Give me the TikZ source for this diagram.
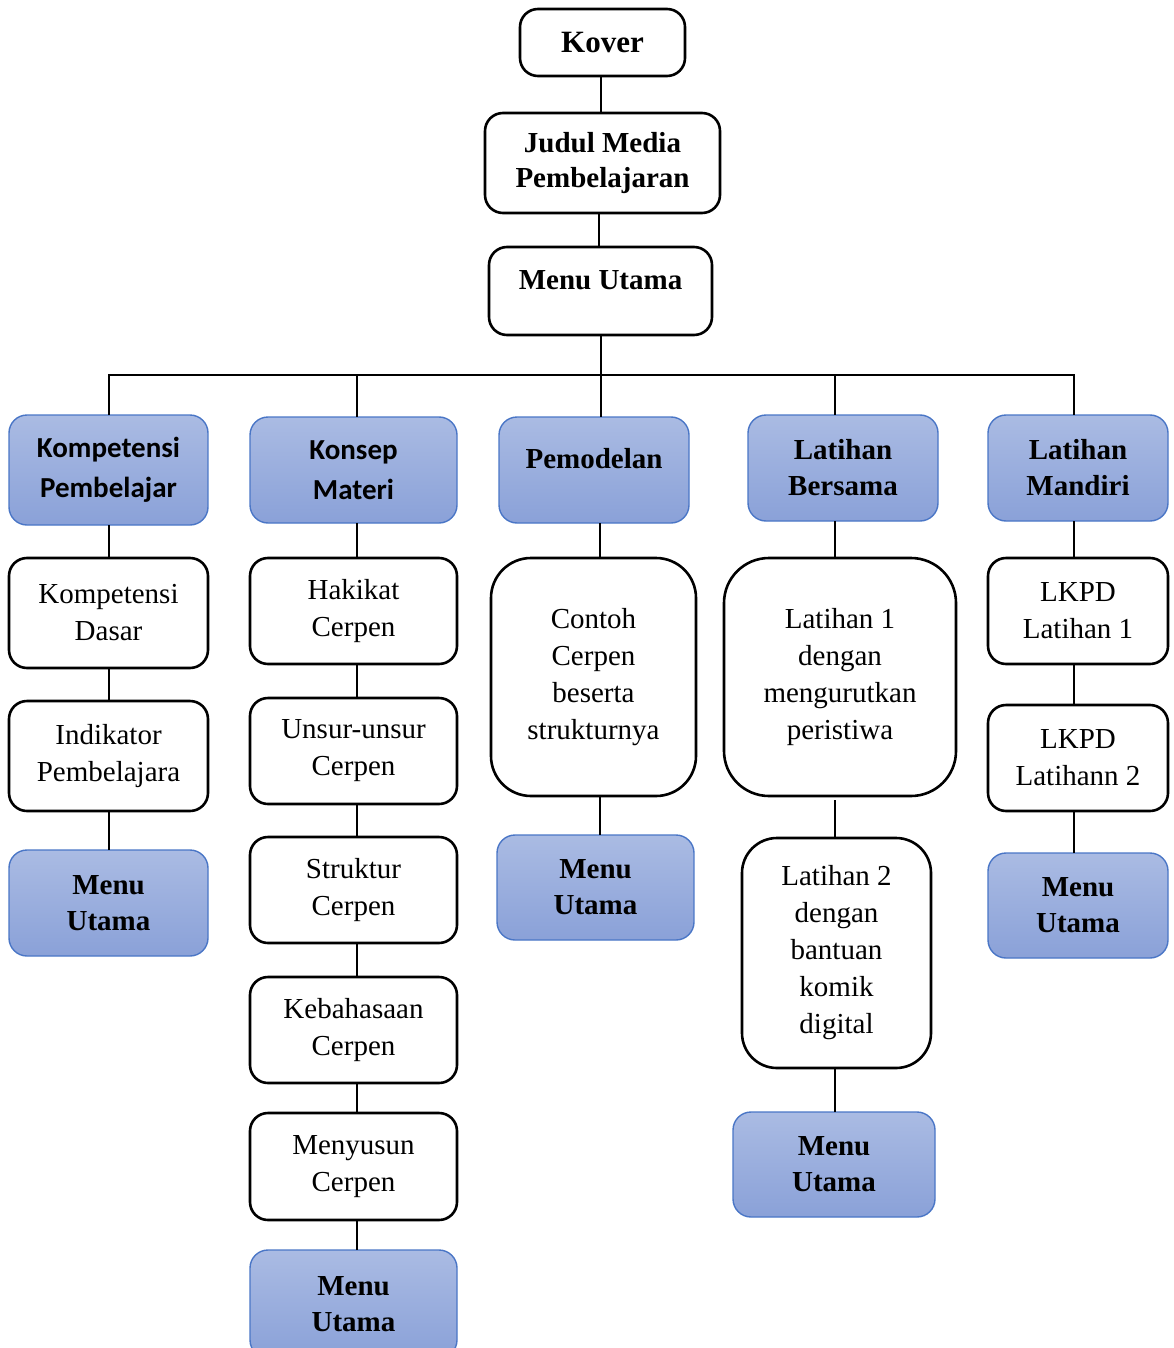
\documentclass[tikz,border=0pt]{standalone}
\usepackage{fontspec}
\setmainfont{Liberation Serif}
\newfontfamily\calib{Carlito}
\definecolor{blueTop}{HTML}{AABBE3}
\definecolor{blueBot}{HTML}{8AA1D8}
\definecolor{blueEdge}{HTML}{4A76C6}
\tikzset{
  base/.style={rectangle, rounded corners=18pt, inner sep=0pt, outer sep=0pt, align=center,
    font=\fontsize{29}{37}\selectfont},
  wbox/.style={base, draw=black, line width=2.6pt, fill=white},
  bbox/.style={base, draw=blueEdge, line width=1.4pt, top color=blueTop, bottom color=blueBot,
    font=\fontsize{29}{36}\selectfont\bfseries},
  cbox/.style={bbox, font=\fontsize{29}{40}\selectfont\calib\bfseries},
  tbox/.style={wbox, font=\fontsize{29}{35}\selectfont\bfseries},
  sz/.style 2 args={minimum width=#1pt, minimum height=#2pt},
  thk/.style={line width=2.8pt},
  thn/.style={line width=1.1pt}
}
\begin{document}
\begin{tikzpicture}[x=1pt,y=-1pt]
\useasboundingbox (0,0) rectangle (1174,1348);
% top
\node[tbox, sz={165}{67}, font=\fontsize{31}{35}\selectfont\bfseries] (kover) at (602.5,42.5) {Kover};
\node[tbox, sz={235}{100}] (judul) at (602.5,163) {Judul Media\\Pembelajaran};
\node[tbox, sz={223}{88}, text depth=21pt] (mu) at (600.5,291) {Menu Utama};
% headers
\node[cbox, sz={199}{110}] (kp) at (108.5,470) {Kompetensi\\Pembelajar};
\node[cbox, sz={207}{106}] (km) at (353.5,470) {Konsep\\Materi};
\node[bbox, sz={190}{106}, text depth=24pt] (pm) at (594,470) {Pemodelan};
\node[bbox, sz={190}{106}] (lb) at (843,468) {Latihan\\Bersama};
\node[bbox, sz={180}{106}] (lm) at (1078,468) {Latihan\\Mandiri};
% column 1
\node[wbox, sz={199}{110}] (kd) at (108.5,613) {Kompetensi\\Dasar};
\node[wbox, sz={199}{110}] (ip) at (108.5,756) {Indikator\\Pembelajara};
\node[bbox, sz={199}{106}] (m1) at (108.5,903) {Menu\\Utama};
% column 2
\node[wbox, sz={207}{106}] (hc) at (353.5,611) {Hakikat\\Cerpen};
\node[wbox, sz={207}{106}] (uc) at (353.5,751) {Unsur-unsur\\Cerpen};
\node[wbox, sz={207}{106}] (sc) at (353.5,890) {Struktur\\Cerpen};
\node[wbox, sz={207}{106}] (kc) at (353.5,1030) {Kebahasaan\\Cerpen};
\node[wbox, sz={207}{107}] (mc) at (353.5,1166.5) {Menyusun\\Cerpen};
\node[bbox, sz={207}{108}] (m2) at (353.5,1304) {Menu\\Utama};
% column 3
\node[wbox, sz={205}{238}, rounded corners=40pt] (cc) at (593.5,677) {Contoh\\Cerpen\\beserta\\strukturnya};
\node[bbox, sz={197}{105}] (m3) at (595.5,887.5) {Menu\\Utama};
% column 4
\node[wbox, sz={232}{238}, rounded corners=45pt] (l1) at (840,677) {Latihan 1\\dengan\\mengurutkan\\peristiwa};
\node[wbox, sz={189}{230}, rounded corners=35pt] (l2) at (836.5,953) {Latihan 2\\dengan\\bantuan\\komik\\digital};
\node[bbox, sz={202}{105}] (m4) at (834,1164.5) {Menu\\Utama};
% column 5
\node[wbox, sz={180}{106}] (k1) at (1078,611) {LKPD\\Latihan 1};
\node[wbox, sz={180}{106}] (k2) at (1078,758) {LKPD\\Latihann 2};
\node[bbox, sz={180}{105}] (m5) at (1078,905.5) {Menu\\Utama};
% column x positions and bus
\coordinate (c1) at (109,0);
\coordinate (c2) at (357,0);
\coordinate (c3) at (600,0);
\coordinate (c4) at (835,0);
\coordinate (c5) at (1074,0);
\coordinate (bus) at (601,375);
\begin{scope}[on background layer/.try]
\draw[thk] (kover.south -| bus) -- (judul.north -| bus);
\draw[thk] (judul.south -| 599,0) -- (mu.north -| 599,0);
\draw[thk] (mu.south -| bus) -- (bus);
\draw[thk] (kp.north -| c1) -- (c1 |- bus) -- (c5 |- bus) -- (lm.north -| c5);
\draw[thk] (c2 |- bus) -- (km.north -| c2);
\draw[thk] (bus) -- (pm.north -| bus);
\draw[thk] (c4 |- bus) -- (lb.north -| c4);
% column 1
\draw[thk] (kp.south -| c1) -- (kd.north -| c1);
\draw[thn] (kd.south -| c1) -- (ip.north -| c1);
\draw[thn] (ip.south -| c1) -- (m1.north -| c1);
% column 2
\draw[thk] (km.south -| c2) -- (hc.north -| c2);
\draw[thn] (hc.south -| c2) -- (uc.north -| c2);
\draw[thn] (uc.south -| c2) -- (sc.north -| c2);
\draw[thn] (sc.south -| c2) -- (kc.north -| c2);
\draw[thn] (kc.south -| c2) -- (mc.north -| c2);
\draw[thn] (mc.south -| c2) -- (m2.north -| c2);
% column 3
\draw[thn] (pm.south -| c3) -- (cc.north -| c3);
\draw[thn] (cc.south -| c3) -- (m3.north -| c3);
% column 4
\draw[thk] (lb.south -| c4) -- (l1.north -| c4);
\draw[thn] (l1.south -| c4) ++(0,4) -- (l2.north -| c4);
\draw[thn] (l2.south -| c4) -- (m4.north -| c4);
% column 5
\draw[thk] (lm.south -| c5) -- (k1.north -| c5);
\draw[thn] (k1.south -| c5) -- (k2.north -| c5);
\draw[thn] (k2.south -| c5) -- (m5.north -| c5);
\end{scope}
\end{tikzpicture}
\end{document}
